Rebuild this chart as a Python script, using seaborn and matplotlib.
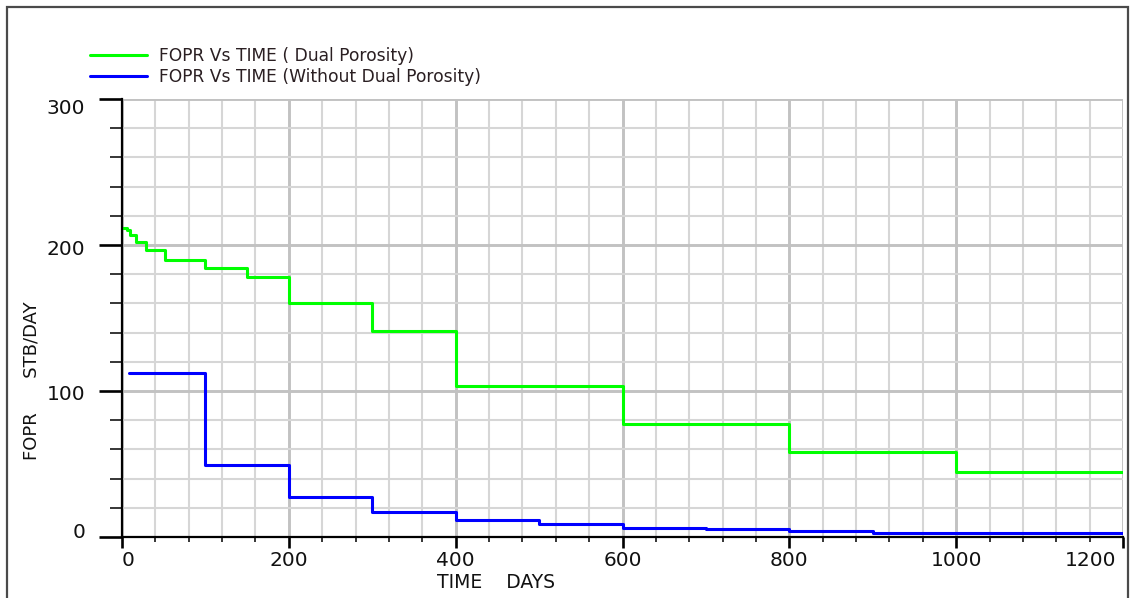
import pandas as pd
import matplotlib
matplotlib.use("Agg")
import matplotlib.pyplot as plt
import matplotlib.transforms as mtransforms
from matplotlib.patches import Rectangle
from matplotlib.ticker import MultipleLocator
import seaborn as sns

# Field oil production rate (STB/DAY) against simulation time (days)
dual_days = [0, 6, 10, 17, 29, 52, 100, 150, 200, 300, 400, 600, 800, 1000, 1200]
dual_fopr = [211.5, 210.5, 207.0, 202.0, 196.5, 190.0, 184.5, 178.0,
             160.0, 141.0, 103.5, 77.5, 58.0, 44.5, 44.5]

single_days = [8, 100, 200, 300, 400, 500, 600, 700, 800, 900, 1200]
single_fopr = [112.5, 49.0, 27.3, 17.4, 11.9, 8.9, 6.4, 5.3, 4.1, 3.0, 3.0]

series_names = ["FOPR Vs TIME ( Dual Porosity)",
                "FOPR Vs TIME (Without Dual Porosity)"]
series_colors = ["#00ff00", "#0000ff"]

x_ticks = [0, 200, 400, 600, 800, 1000, 1200]
y_ticks = [0, 100, 200, 300]

df = pd.concat([
    pd.DataFrame({"TIME": dual_days, "FOPR": dual_fopr, "series": series_names[0]}),
    pd.DataFrame({"TIME": single_days, "FOPR": single_fopr, "series": series_names[1]}),
], ignore_index=True)

sns.set_style("white")
plt.rcParams["font.family"] = ["DejaVu Sans"]

W, H = 1131, 598
fig = plt.figure(figsize=(W / 100, H / 100), dpi=100)
fig.patch.set_facecolor("white")
ax = fig.add_axes([122 / W, 61 / H, 1001 / W, 438 / H])

sns.lineplot(data=df, x="TIME", y="FOPR", hue="series", hue_order=series_names,
             palette=series_colors, estimator=None, sort=False,
             drawstyle="steps-post", linewidth=2.2, ax=ax)

ax.set_xlim(0, 1200)
ax.set_ylim(0, 300)
ax.set_xticks(x_ticks)
ax.set_yticks(y_ticks)
ax.xaxis.set_minor_locator(MultipleLocator(40))
ax.yaxis.set_minor_locator(MultipleLocator(20))
ax.set_xlabel("")
ax.set_ylabel("")

ax.set_axisbelow(True)
ax.grid(which="major", color="#c2c2c2", linewidth=2.1)
ax.grid(which="minor", color="#d6d6d6", linewidth=1.5)

for side in ("top", "right"):
    ax.spines[side].set_visible(False)
for side in ("left", "bottom"):
    ax.spines[side].set_color("black")
    ax.spines[side].set_linewidth(1.6)

ax.tick_params(which="both", left=True, bottom=True, top=False, right=False)
ax.tick_params(axis="y", which="major", direction="out", length=16.5, width=1.9,
               color="black", pad=10, labelsize=14.5, labelcolor="#111111")
ax.tick_params(axis="y", which="minor", direction="out", length=8.6, width=1.1,
               color="black")
ax.tick_params(axis="x", which="major", direction="out", length=8, width=1.9,
               color="black", pad=2, labelsize=14.5, labelcolor="#111111")
ax.tick_params(axis="x", which="minor", direction="out", length=3.6, width=1.1,
               color="black")

fig.canvas.draw()

# end labels kept inside the axis extent
xt = ax.xaxis.get_major_ticks()
xt[0].label1.set_ha("left")
xt[-1].label1.set_ha("right")
xt[-1].label1.set_transform(xt[-1].label1.get_transform() +
                            mtransforms.ScaledTranslation(-7 / 100, 0, fig.dpi_scale_trans))

y_shift = {0: 1, 100: 9.3, 200: 10, 300: 15}
for tick, val in zip(ax.yaxis.get_major_ticks(), y_ticks):
    tick.label1.set_va("baseline")
    tick.label1.set_transform(tick.label1.get_transform() +
                              mtransforms.ScaledTranslation(0, -y_shift[val] / 100,
                                                            fig.dpi_scale_trans))

# axis titles
fig.text(437 / W, 1 - 588 / H, "TIME    DAYS", ha="left", va="baseline",
         fontsize=13.5, color="#111111")
fig.text(37 / W, 1 - 460 / H, "FOPR      STB/DAY", rotation=90,
         rotation_mode="anchor", ha="left", va="baseline",
         fontsize=13, color="#111111")

# legend above the plot area
sns.move_legend(ax, "upper left", bbox_to_anchor=(90 / W, 1 - 47 / H),
                bbox_transform=fig.transFigure, frameon=False, title=None,
                fontsize=12.3, handlelength=3.35, handletextpad=0.7,
                labelspacing=0.2, borderpad=0, borderaxespad=0)
leg = ax.get_legend()
for line in leg.get_lines():
    line.set_linewidth(2.2)
for txt in leg.get_texts():
    txt.set_color("#2a1f22")

# outer frame
fig.add_artist(Rectangle((7 / W, -0.05), (1128 - 7) / W, 1.05 - 7 / H,
                         transform=fig.transFigure, fill=False,
                         edgecolor="#4a4a4a", linewidth=1.6))

fig.savefig("out.png", dpi=100)
